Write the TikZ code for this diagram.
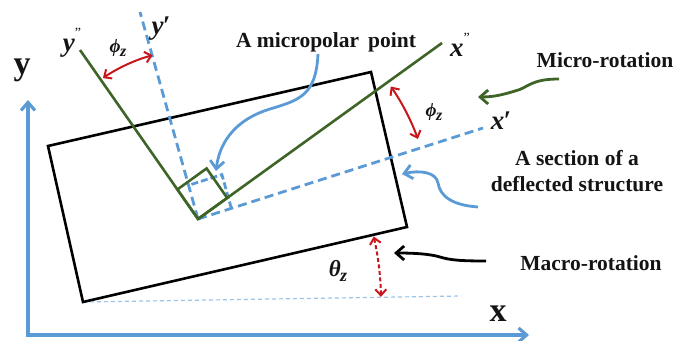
\documentclass[tikz,border=0pt]{standalone}
\usepackage{fontspec}
\setmainfont{Liberation Serif}
\usetikzlibrary{arrows.meta,calc}
\definecolor{axblue}{HTML}{5B9BD5}
\definecolor{lblue}{HTML}{9DC3E6}
\definecolor{dgreen}{HTML}{3F6428}
\definecolor{arcred}{HTML}{C8161D}
\definecolor{txt}{HTML}{141414}
\begin{document}
\begin{tikzpicture}[x=1pt,y=-1pt,
  rect/.style={draw=black,line width=2.6pt,line join=miter},
  axisline/.style={draw=axblue,line width=3.2pt,{Straight Barb[length=8pt,width=14pt]}-{Straight Barb[length=8pt,width=14pt]}},
  bdash/.style={draw=axblue,line width=2.8pt,dash pattern=on 9pt off 5pt},
  gline/.style={draw=dgreen,line width=2.6pt},
  redarc/.style={draw=arcred,line width=2pt,{Straight Barb[length=6pt,width=11pt]}-{Straight Barb[length=6pt,width=11pt]}},
  curvy/.style={line width=2.8pt,-{Straight Barb[length=8pt,width=14pt]}},
  bigtxt/.style={text=txt,font=\fontsize{21.5}{26}\selectfont\bfseries,inner sep=0pt},
  axtxt/.style={text=txt,font=\fontsize{34}{36}\selectfont\bfseries,inner sep=0pt},
  itxt/.style={text=txt,font=\fontsize{27}{29}\selectfont\bfseries\itshape,inner sep=0pt},
  gtxt/.style={text=txt,font=\fontsize{19}{19}\selectfont\bfseries\itshape,inner sep=0pt}]
\useasboundingbox (0,0) rectangle (676,340);
% main coordinates
\coordinate (O) at (198,219);
\coordinate (A) at (48,146);
\coordinate (B) at (371,72);
\coordinate (C) at (407,227);
\coordinate (D) at (83,302);
\coordinate (Or) at (28,335);
\coordinate (Ytip) at (28,100);
\coordinate (Xtip) at (529,335);
\coordinate (xp) at (483,128);
\coordinate (yp) at (140,12);
\coordinate (xpp) at (442,43);
\coordinate (ypp) at (80,50);
\coordinate (hd) at (461,296);
% global axes
\draw[axisline] (Ytip) -- (Or) -- (Xtip);
% reference horizontal
\draw[draw=lblue,line width=1.2pt,dash pattern=on 4pt off 3pt] (D) -- (hd);
% section
\draw[rect] (A) -- (B) -- (C) -- (D) -- cycle;
% squares
\coordinate (g1) at ($(O)!36pt!(xpp)$);
\coordinate (g3) at ($(O)!36pt!(ypp)$);
\coordinate (g2) at ($(g1)+(g3)-(O)$);
\coordinate (b1) at ($(O)!35pt!(xp)$);
\coordinate (b3) at ($(O)!35pt!(yp)$);
\coordinate (b2) at ($(b1)+(b3)-(O)$);
\draw[bdash,dash pattern=on 7pt off 3pt] (b1) -- (b2) -- (b3);
% local axes
\draw[bdash] (O) -- (xp);
\draw[bdash] (O) -- (yp);
\draw[gline] (O) -- (xpp);
\draw[gline] (O) -- (ypp);
\draw[gline,line join=miter] (O) -- (g1) -- (g2) -- (g3) -- cycle;
% rotation arcs
\draw[redarc] (O) ++(-105.5:170) arc[start angle=-105.5,end angle=-124,radius=170];
\draw[redarc] (O) ++(-20:234) arc[start angle=-20,end angle=-34.5,radius=234];
\draw[redarc,dash pattern=on 4pt off 2.5pt] (D) ++(-1:298) arc[start angle=-1,end angle=-12.7,radius=298];
% labels
\node[axtxt] (tY) at (22,70) {y};
\node[axtxt] (tX) at (498,314) {x};
\node[itxt] (lypp) at (72,43) {y\raisebox{0.5em}{\upshape\mdseries\fontsize{14}{14}\selectfont"}};
\node[itxt] (lyp) at (161,29) {y\kern-1pt′};
\node[itxt] (lxpp) at (460,45) {x\raisebox{0.5em}{\upshape\mdseries\fontsize{14}{14}\selectfont"}};
\node[itxt] (lxp) at (501,121) {x\kern-1pt′};
\node[gtxt] (phi1) at (118,48) {ϕ\kern-0.5pt\raisebox{-0.22em}{\fontsize{16}{16}\selectfont z}};
\node[gtxt] (phi2) at (434,112) {ϕ\kern-0.5pt\raisebox{-0.22em}{\fontsize{16}{16}\selectfont z}};
\node[gtxt,font=\fontsize{23}{23}\selectfont\bfseries\itshape] (th) at (338,271) {θ\kern-0.5pt\raisebox{-0.22em}{\fontsize{18}{18}\selectfont z}};
\node[bigtxt] (tmp) at (326,42) {A micropolar\, point};
\node[bigtxt] (tmr) at (605,60) {Micro-rotation};
\node[bigtxt,align=center] (tsec) at (577,171) {A section of a\\deflected structure};
\node[bigtxt] (tmac) at (591,263) {Macro-rotation};
% curved pointer arrows
\coordinate (c1s) at (318,54);
\coordinate (c1e) at (216,171);
\draw[curvy,draw=axblue] (c1s) .. controls (316,95) and (300,100) .. (270,109) .. controls (240,118) and (220,138) .. (c1e);
\coordinate (c2s) at (559,79);
\coordinate (c2e) at (478,97);
\draw[curvy,draw=dgreen] (c2s) .. controls (530,79) and (528,88) .. (515,91) .. controls (505,94) and (495,97) .. (c2e);
\coordinate (c3s) at (478,207);
\coordinate (c3e) at (402,174);
\draw[curvy,draw=axblue] (c3s) .. controls (450,205) and (440,195) .. (438,183) .. controls (436,172) and (420,170) .. (c3e);
\coordinate (c4s) at (486,261);
\coordinate (c4e) at (394,253);
\draw[curvy,draw=black] (c4s) .. controls (460,261) and (450,260) .. (440,257) .. controls (430,254) and (415,253) .. (c4e);
\end{tikzpicture}
\end{document}
